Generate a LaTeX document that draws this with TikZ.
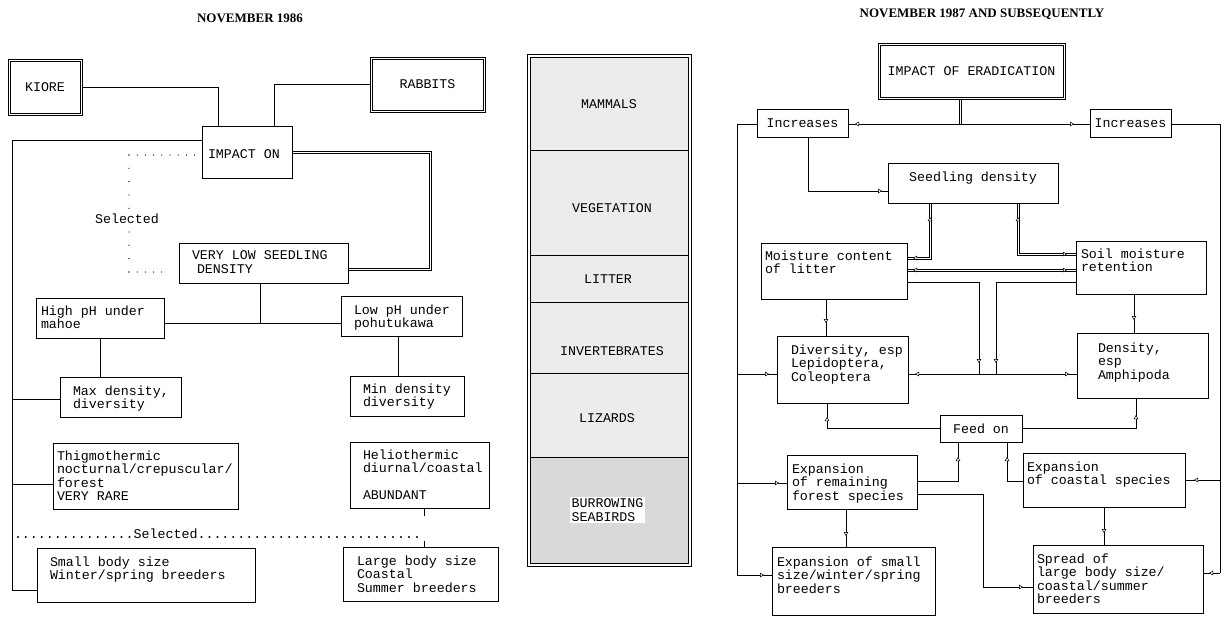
\documentclass[tikz,border=0pt]{standalone}
\usepackage{fontspec}
\setmainfont{Liberation Serif}
\newfontfamily\mono{Liberation Mono}
\usetikzlibrary{arrows.meta,decorations.markings}
\newcommand\mf{\mono\fontsize{13.3}{13.3}\selectfont}
\begin{document}
\begin{tikzpicture}[x=1pt,y=-1pt,
  every node/.style={inner sep=0pt, outer sep=0pt},
  bx/.style={draw=black, line width=0.6pt},
  ibx/.style={draw=black, line width=0.5pt},
  tx/.style={font=\mf, align=left, anchor=north west},
  ln/.style={line width=0.6pt},
  dln/.style={line width=0.5pt},
  dotH/.style={line width=1.3pt, line cap=round, dash pattern=on 0pt off 8.2pt},
  dotV/.style={line width=1.3pt, line cap=round, dash pattern=on 0pt off 13.3pt},
  sec/.style={draw=black, line width=0.5pt, fill=gray!15, minimum width=158pt},
  tri/.tip={Triangle[fill=white,length=4pt,width=4.6pt,line width=0.5pt]},
  tE/.style={postaction={decorate,decoration={markings,mark=at position -#1 with {\arrow{tri}}}}},
  tE/.default=6pt,
  tS/.style={postaction={decorate,decoration={markings,mark=at position #1 with {\arrowreversed{tri}}}}},
  tS/.default=6pt,
  ttl/.style={font=\bfseries\fontsize{13}{15}\selectfont},
]
\useasboundingbox (0,0) rectangle (1225,627);

% ---------------- LEFT PANEL ----------------
\node[ttl] (t1) at (250,18) {NOVEMBER 1986};
\node[bx, minimum width=74pt, minimum height=56pt, font=\mf] (kiore) at (45,87) {KIORE};
\node[ibx, minimum width=69.5pt, minimum height=51.5pt] (kioreIn) at (45,87) {};
\node[bx, minimum width=115pt, minimum height=55pt, font=\mf] (rabbits) at (427.5,84.5) {RABBITS};
\node[ibx, minimum width=110.5pt, minimum height=50.5pt] (rabbitsIn) at (427.5,84.5) {};
\node[bx, minimum width=90pt, minimum height=52pt] (impact) at (247,152) {};
\node[font=\mf, anchor=west] (impactT) at (208,154) {IMPACT ON};
\node[bx, minimum width=169pt, minimum height=40pt] (vlow) at (263.5,263) {};
\node[tx] (vlowT) at (192,251) {VERY LOW SEEDLING\\\hspace*{5pt}DENSITY};
\node[bx, minimum width=128pt, minimum height=40pt] (high) at (100,318) {};
\node[tx] (highT) at (41,306) {High pH under\\mahoe};
\node[bx, minimum width=121pt, minimum height=40pt] (low) at (401.5,316) {};
\node[tx] (lowT) at (354,305) {Low pH under\\pohutukawa};
\node[bx, minimum width=121pt, minimum height=40pt] (max) at (120.5,397) {};
\node[tx] (maxT) at (73,386) {Max density,\\diversity};
\node[bx, minimum width=114pt, minimum height=40pt] (min) at (407,396) {};
\node[tx] (minT) at (363,384) {Min density\\diversity};
\node[bx, minimum width=185pt, minimum height=66pt] (thigmo) at (145.5,476) {};
\node[tx] (thigmoT) at (57,451) {Thigmothermic\\nocturnal/crepuscular/\\forest\\VERY RARE};
\node[bx, minimum width=139pt, minimum height=66pt] (helio) at (419.5,475) {};
\node[tx] (helioT) at (363,450) {Heliothermic\\diurnal/coastal\\[13.3pt]ABUNDANT};
\node[bx, minimum width=218pt, minimum height=54pt] (small) at (146,575) {};
\node[tx] (smallT) at (50,557) {Small body size\\Winter/spring breeders};
\node[bx, minimum width=155pt, minimum height=54pt] (large) at (420.5,574) {};
\node[tx] (largeT) at (357,556) {Large body size\\Coastal\\Summer breeders};

\draw[ln] (kiore.east) -| (impact.north -| 218,0);
\draw[ln] (rabbits.west) -| (impact.north -| 274,0);
\coordinate (L1) at (12,140);
\coordinate (L2) at (12,590);
\draw[ln] (impact.west |- L1) -- (L1) -- (L2) -- (small.west |- L2);
\draw[ln] (L1 |- 0,399) -- (max.west |- 0,399);
\draw[ln] (L1 |- 0,484) -- (thigmo.west |- 0,484);

\coordinate (d1) at (129,155);
\coordinate (d2) at (129,209);
\coordinate (d3) at (129,232);
\coordinate (d4) at (129,272);
\draw[dotH, shorten >=5pt] (d1) -- (impact.west |- d1);
\draw[dotV] (d1) -- (d2);
\node[font=\mf] (sel1) at (127,219) {Selected};
\draw[dotV] (d3) -- (d4);
\draw[dotH, shorten >=13pt] (d4) -- (vlow.west |- d4);

\node[font=\mf, anchor=base west] (sel2) at (14,538) {...............Selected............................};

\coordinate (s1) at (260,323);
\draw[ln] (vlow.south -| s1) -- (s1);
\draw[ln] (high.east |- s1) -- (low.west |- s1);
\draw[ln] (high.south -| 100,0) -- (max.north -| 100,0);
\draw[ln] (low.south -| 398,0) -- (min.north -| 398,0);
\coordinate (h1) at (424,516);
\coordinate (h2) at (424,541);
\draw[ln] (helio.south -| h1) -- (h1);
\draw[ln] (h2) -- (large.north -| h2);

% double connector IMPACT ON -> VERY LOW SEEDLING DENSITY
\draw[dln] (impact.east |- 0,150.8) -- (431.2,150.8) -- (431.2,270.2) -- (vlow.east |- 0,270.2);
\draw[dln] (impact.east |- 0,153.2) -- (428.8,153.2) -- (428.8,267.8) -- (vlow.east |- 0,267.8);

% ---------------- MIDDLE COLUMN ----------------
\node[sec, minimum height=93pt] (sMam) at (609,103.5) {};
\node[sec, minimum height=105pt] (sVeg) at (609,202.5) {};
\node[sec, minimum height=47pt] (sLit) at (609,278.5) {};
\node[sec, minimum height=71pt] (sInv) at (609,337.5) {};
\node[sec, minimum height=84pt] (sLiz) at (609,415) {};
\node[sec, minimum height=106pt, fill=gray!30] (sSea) at (609,510) {};
\node[bx, minimum width=164pt, minimum height=512pt] (col) at (609,310) {};
\node[font=\mf] (tMam) at (609,104) {MAMMALS};
\node[font=\mf] (tVeg) at (612,208) {VEGETATION};
\node[font=\mf] (tLit) at (608,279) {LITTER};
\node[font=\mf] (tInv) at (612,351) {INVERTEBRATES};
\node[font=\mf] (tLiz) at (607,418) {LIZARDS};
\node[font=\mf, align=left, fill=white, inner sep=2pt] (tSea) at (607.5,510) {BURROWING\\SEABIRDS};

% ---------------- RIGHT PANEL ----------------
\node[ttl] (t2) at (982,14) {NOVEMBER 1987 AND SUBSEQUENTLY};
\node[bx, minimum width=187pt, minimum height=56pt, font=\mf] (ier) at (971.5,71) {IMPACT OF ERADICATION};
\node[ibx, minimum width=182.5pt, minimum height=51.5pt] (ierIn) at (971.5,71) {};
\node[bx, minimum width=91pt, minimum height=28pt, font=\mf] (incL) at (802.5,123) {Increases};
\node[bx, minimum width=81pt, minimum height=28pt, font=\mf] (incR) at (1130.5,123) {Increases};
\node[bx, minimum width=170pt, minimum height=40pt] (seed) at (973,183) {};
\node[font=\mf] (seedT) at (973,178) {Seedling density};
\node[bx, minimum width=146pt, minimum height=56pt] (moist) at (834,271) {};
\node[tx] (moistT) at (765,251) {Moisture content\\of litter};
\node[bx, minimum width=130pt, minimum height=53pt] (soil) at (1141,267.5) {};
\node[tx] (soilT) at (1081,249) {Soil moisture\\retention};
\node[bx, minimum width=131pt, minimum height=67pt] (div) at (842.5,369.5) {};
\node[tx] (divT) at (791,345) {Diversity, esp\\Lepidoptera,\\Coleoptera};
\node[bx, minimum width=131pt, minimum height=65pt] (dens) at (1142.5,365.5) {};
\node[tx] (densT) at (1098,343) {Density,\\esp\\Amphipoda};
\node[bx, minimum width=82pt, minimum height=27pt, font=\mf] (feed) at (981,428.5) {Feed on};
\node[bx, minimum width=130pt, minimum height=54pt] (expR) at (852,482) {};
\node[tx] (expRT) at (792,464) {Expansion\\of remaining\\forest species};
\node[bx, minimum width=162pt, minimum height=54pt] (expc) at (1104,480) {};
\node[tx] (expcT) at (1027,462) {Expansion\\of coastal species};
\node[bx, minimum width=163pt, minimum height=68pt] (exps) at (853.5,581) {};
\node[tx] (expsT) at (777,557) {Expansion of small\\size/winter/spring\\breeders};
\node[bx, minimum width=170pt, minimum height=68pt] (spread) at (1118,579) {};
\node[tx] (spreadT) at (1037,554) {Spread of\\large body size/\\coastal/summer\\breeders};

\coordinate (j1) at (960,124);
\draw[dln] (ier.south -| 958.8,0) -- (958.8,124);
\draw[dln] (ier.south -| 961.2,0) -- (961.2,124);
\draw[ln, tS=7pt, tE=16pt] (incL.east |- j1) -- (incR.west |- j1);

\coordinate (LT) at (737,124);
\coordinate (LB) at (737,575);
\draw[ln] (incL.west |- LT) -- (LT) -- (LB);
\draw[ln, tE=8pt] (LB) -- (exps.west |- LB);
\draw[ln, tE=8pt] (LT |- 0,374) -- (div.west |- 0,374);
\draw[ln, tE=8pt] (LT |- 0,483) -- (expR.west |- 0,483);
\coordinate (k1) at (808,191);
\draw[ln, tE=6pt] (incL.south -| k1) |- (seed.west |- k1);

\coordinate (RT) at (1220,124);
\coordinate (RB) at (1220,573);
\draw[ln] (incR.east |- RT) -- (RT) -- (RB);
\draw[ln, tE=6pt] (RB) -- (spread.east |- RB);
\draw[ln, tE=9pt] (RT |- 0,480) -- (expc.east |- 0,480);

% double connectors with tips
\coordinate (m1) at (930,258);
\draw[dln] (seed.south -| 928.8,0) -- (928.8,256.8) -- (moist.east |- 0,256.8);
\draw[dln] (seed.south -| 931.2,0) -- (931.2,259.2) -- (moist.east |- 0,259.2);
\path[tS=14pt, tE=6pt] (seed.south -| m1) -- (m1) -- (moist.east |- m1);
\coordinate (m2) at (1018,254);
\draw[dln] (seed.south -| 1016.8,0) -- (1016.8,255.2) -- (soil.west |- 0,255.2);
\draw[dln] (seed.south -| 1019.2,0) -- (1019.2,252.8) -- (soil.west |- 0,252.8);
\path[tS=14pt, tE=9pt] (seed.south -| m2) -- (m2) -- (soil.west |- m2);
\coordinate (m3) at (900,270);
\draw[dln] (moist.east |- 0,268.8) -- (soil.west |- 0,268.8);
\draw[dln] (moist.east |- 0,271.2) -- (soil.west |- 0,271.2);
\path[tS=6pt, tE=9pt] (moist.east |- m3) -- (soil.west |- m3);

\coordinate (c1) at (979,374);
\coordinate (c2) at (996,374);
\draw[ln, tE=11pt] (moist.east |- 0,282) -| (c1);
\draw[ln, tE=11pt] (soil.west |- 0,282) -| (c2);
\draw[ln, tS=7pt, tE=8pt] (div.east |- c1) -- (dens.west |- c1);
\draw[ln, tE=13pt] (moist.south -| 826,0) -- (div.north -| 826,0);
\draw[ln, tE=13pt] (soil.south -| 1134,0) -- (dens.north -| 1134,0);
\draw[ln, tE=14pt] (feed.west) -| (div.south -| 827,0);
\draw[ln, tE=17pt] (feed.east) -| (dens.south -| 1136,0);
\draw[ln, tE=15pt] (expR.east |- 0,481) -| (feed.south -| 958,0);
\draw[ln, tE=15pt] (expc.west |- 0,481) -| (feed.south -| 1007,0);
\draw[ln, tE=11pt] (expR.south -| 846,0) -- (exps.north -| 846,0);
\draw[ln, tE=12pt] (expc.south -| 1104,0) -- (spread.north -| 1104,0);
\coordinate (c3) at (983,587);
\draw[ln, tE=10pt] (expR.east |- 0,494) -| (c3) -- (spread.west |- c3);
\end{tikzpicture}
\end{document}
